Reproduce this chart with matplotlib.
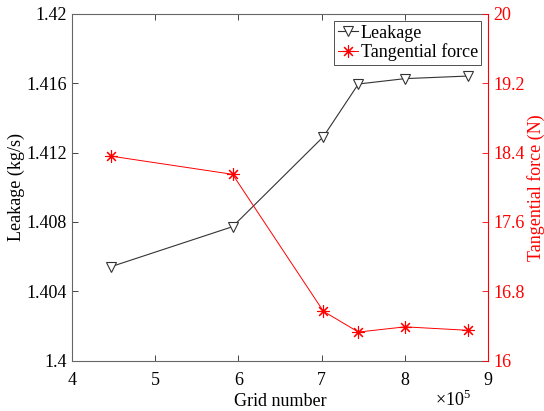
import matplotlib
matplotlib.use("Agg")
import matplotlib.pyplot as plt
from matplotlib.ticker import FixedLocator

plt.rcParams['font.family'] = ['Liberation Serif', 'DejaVu Serif']
plt.rcParams['mathtext.fontset'] = 'custom'
plt.rcParams['mathtext.rm'] = 'Liberation Serif'

# Grid number (x 1e5)
grid_number = [4.47, 5.93, 7.02, 7.44, 8.00, 8.76]
# Leakage (kg/s)
leakage = [1.40542, 1.40773, 1.41292, 1.41596, 1.41627, 1.41642]
# Tangential force (N)
tangential_force = [18.36, 18.15, 16.57, 16.33, 16.39, 16.35]

x_ticks = [4, 5, 6, 7, 8, 9]
left_ticks = [1.4, 1.404, 1.408, 1.412, 1.416, 1.42]
left_tick_labels = ['1.4', '1.404', '1.408', '1.412', '1.416', '1.42']
right_ticks = [16, 16.8, 17.6, 18.4, 19.2, 20]
right_tick_labels = ['16', '16.8', '17.6', '18.4', '19.2', '20']

axis_gray = '#262626'
red = '#ff0000'
fs = 13

fig = plt.figure(figsize=(5.44, 4.11), dpi=100)
ax = fig.add_axes([0.132, 0.1225, 0.7656, 0.8435])
ax2 = ax.twinx()

l1, = ax.plot(grid_number, leakage, color='#333333', lw=0.8, marker='v',
              markersize=7, markerfacecolor='white', markeredgecolor='#333333',
              markeredgewidth=0.8, label='Leakage')
# asterisk markers for the force curve
l2, = ax2.plot(grid_number, tangential_force, color=red, lw=0.7,
               marker=(8, 2, 0), markersize=9, markeredgecolor=red,
               markeredgewidth=0.8, label='Tangential force')

ax.set_xlim(4, 9)
ax.set_ylim(1.4, 1.42)
ax2.set_ylim(16, 20)

ax.xaxis.set_major_locator(FixedLocator(x_ticks))
ax.set_xticklabels([str(v) for v in x_ticks])
ax.set_yticks(left_ticks)
ax.set_yticklabels(left_tick_labels)
ax2.set_yticks(right_ticks)
ax2.set_yticklabels(right_tick_labels)

ax.tick_params(axis='x', direction='in', top=True, length=4, width=0.6,
               color=axis_gray, labelsize=fs, labelcolor='black', pad=8)
ax.tick_params(axis='y', direction='in', left=True, right=False, length=4,
               width=0.6, color=axis_gray, labelsize=fs, labelcolor='black')
ax2.tick_params(axis='y', direction='in', length=4, width=0.6, color=red,
                labelsize=fs, labelcolor=red)

for side in ['left', 'bottom', 'top']:
    ax.spines[side].set_color('#666666')
    ax.spines[side].set_linewidth(0.8)
for side in ['left', 'bottom', 'top']:
    ax2.spines[side].set_visible(False)
ax2.spines['right'].set_color(red)
ax2.spines['right'].set_linewidth(0.8)
ax.spines['right'].set_visible(False)

ax.set_xlabel('Grid number', fontsize=fs, labelpad=3)
ax.set_ylabel('Leakage (kg/s)', fontsize=fs, labelpad=1)
ax2.set_ylabel('Tangential force (N)', fontsize=fs, color=red, labelpad=2)

fig.text(0.800, 0.027, r'$\times10^{5}$', fontsize=fs, ha='left', va='center')

leg = ax2.legend([l1, l2], ['Leakage', 'Tangential force'], loc='upper right',
                 bbox_to_anchor=(0.9835, 0.9795), fontsize=fs, fancybox=False,
                 framealpha=1, edgecolor='#333333', borderpad=0.2,
                 handlelength=1.1, handletextpad=0.15, labelspacing=0.1,
                 borderaxespad=0)
leg.get_frame().set_linewidth(0.6)

fig.savefig('out.png', dpi=100)
